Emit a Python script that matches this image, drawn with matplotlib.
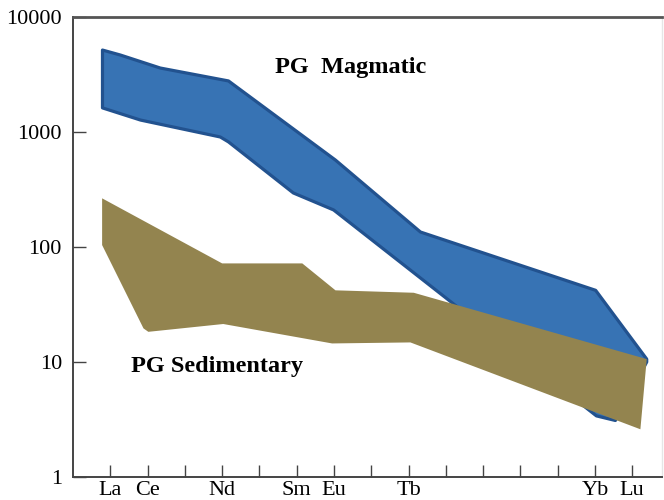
import matplotlib.pyplot as plt
import numpy as np

# REE pattern fields (chondrite normalised)
ree = ['La', 'Ce', 'Pr', 'Nd', 'Pm', 'Sm', 'Eu', 'Gd', 'Tb', 'Dy', 'Ho', 'Er', 'Tm', 'Yb', 'Lu']
shown = ['La', 'Ce', 'Nd', 'Sm', 'Eu', 'Tb', 'Yb', 'Lu']

# PG Magmatic field: upper edge and lower edge, both left to right
mag_top_x = [0.79, 1.27, 2.34, 4.17, 7.04, 9.32, 14.02, 15.39]
mag_top_y = [5160, 4670, 3600, 2780, 570, 135, 42, 10.6]
mag_bot_x = [0.79, 1.81, 3.95, 4.17, 5.91, 6.99, 14.04, 14.55, 15.39]
mag_bot_y = [1620, 1270, 905, 820, 295, 210, 3.4, 3.1, 10]

# PG Sedimentary field
sed_top_x = [0.78, 4.0, 6.15, 7.04, 9.14, 15.39]
sed_top_y = [265, 72, 72, 42, 40, 10.6]
sed_bot_x = [0.78, 1.89, 2.02, 4.03, 6.95, 9.05, 15.22]
sed_bot_y = [104, 19.6, 18.3, 21.4, 14.5, 14.8, 2.6]

plt.rcParams['font.family'] = ['Liberation Serif', 'DejaVu Serif']

fig = plt.figure(figsize=(6.64, 5.0), dpi=100)
ax = fig.add_axes([0.110, 0.046, 0.887, 0.920])

# magmatic band with darker outline
ax.fill(mag_top_x + mag_bot_x[::-1], mag_top_y + mag_bot_y[::-1],
        facecolor='#3773b4', edgecolor='#22528f', lw=2.3, joinstyle='round', zorder=2)
# sedimentary band drawn over it
ax.fill(sed_top_x + sed_bot_x[::-1], sed_top_y + sed_bot_y[::-1],
        facecolor='#93844f', edgecolor='none', zorder=3)

ax.text(7.44, 3670, 'PG  Magmatic', fontsize=17.5, fontweight='bold', ha='center', va='center')
ax.text(3.85, 9.2, 'PG Sedimentary', fontsize=17.5, fontweight='bold', ha='center', va='center')

ax.set_yscale('log')
ax.set_ylim(1, 10000)
ax.set_xlim(0, 15.8)
ax.set_yticks([1, 10, 100, 1000, 10000])
ax.set_yticklabels(['1', '10', '100', '1000', '10000'])
ax.minorticks_off()

pos = np.arange(1, len(ree) + 1)
ax.set_xticks(pos)
ax.set_xticklabels([r if r in shown else '' for r in ree])

ax.tick_params(direction='in', length=9, width=1, color='#444444', labelsize=16)
ax.tick_params(axis='y', pad=8)
ax.tick_params(axis='x', pad=3)

for s in ['left', 'bottom']:
    ax.spines[s].set_color('#444444')
    ax.spines[s].set_linewidth(1.4)
ax.spines['top'].set_color('#555555')
ax.spines['top'].set_linewidth(2)
ax.spines['right'].set_color('#e6e6e6')
ax.spines['right'].set_linewidth(1)

fig.savefig('out.png', dpi=100)
